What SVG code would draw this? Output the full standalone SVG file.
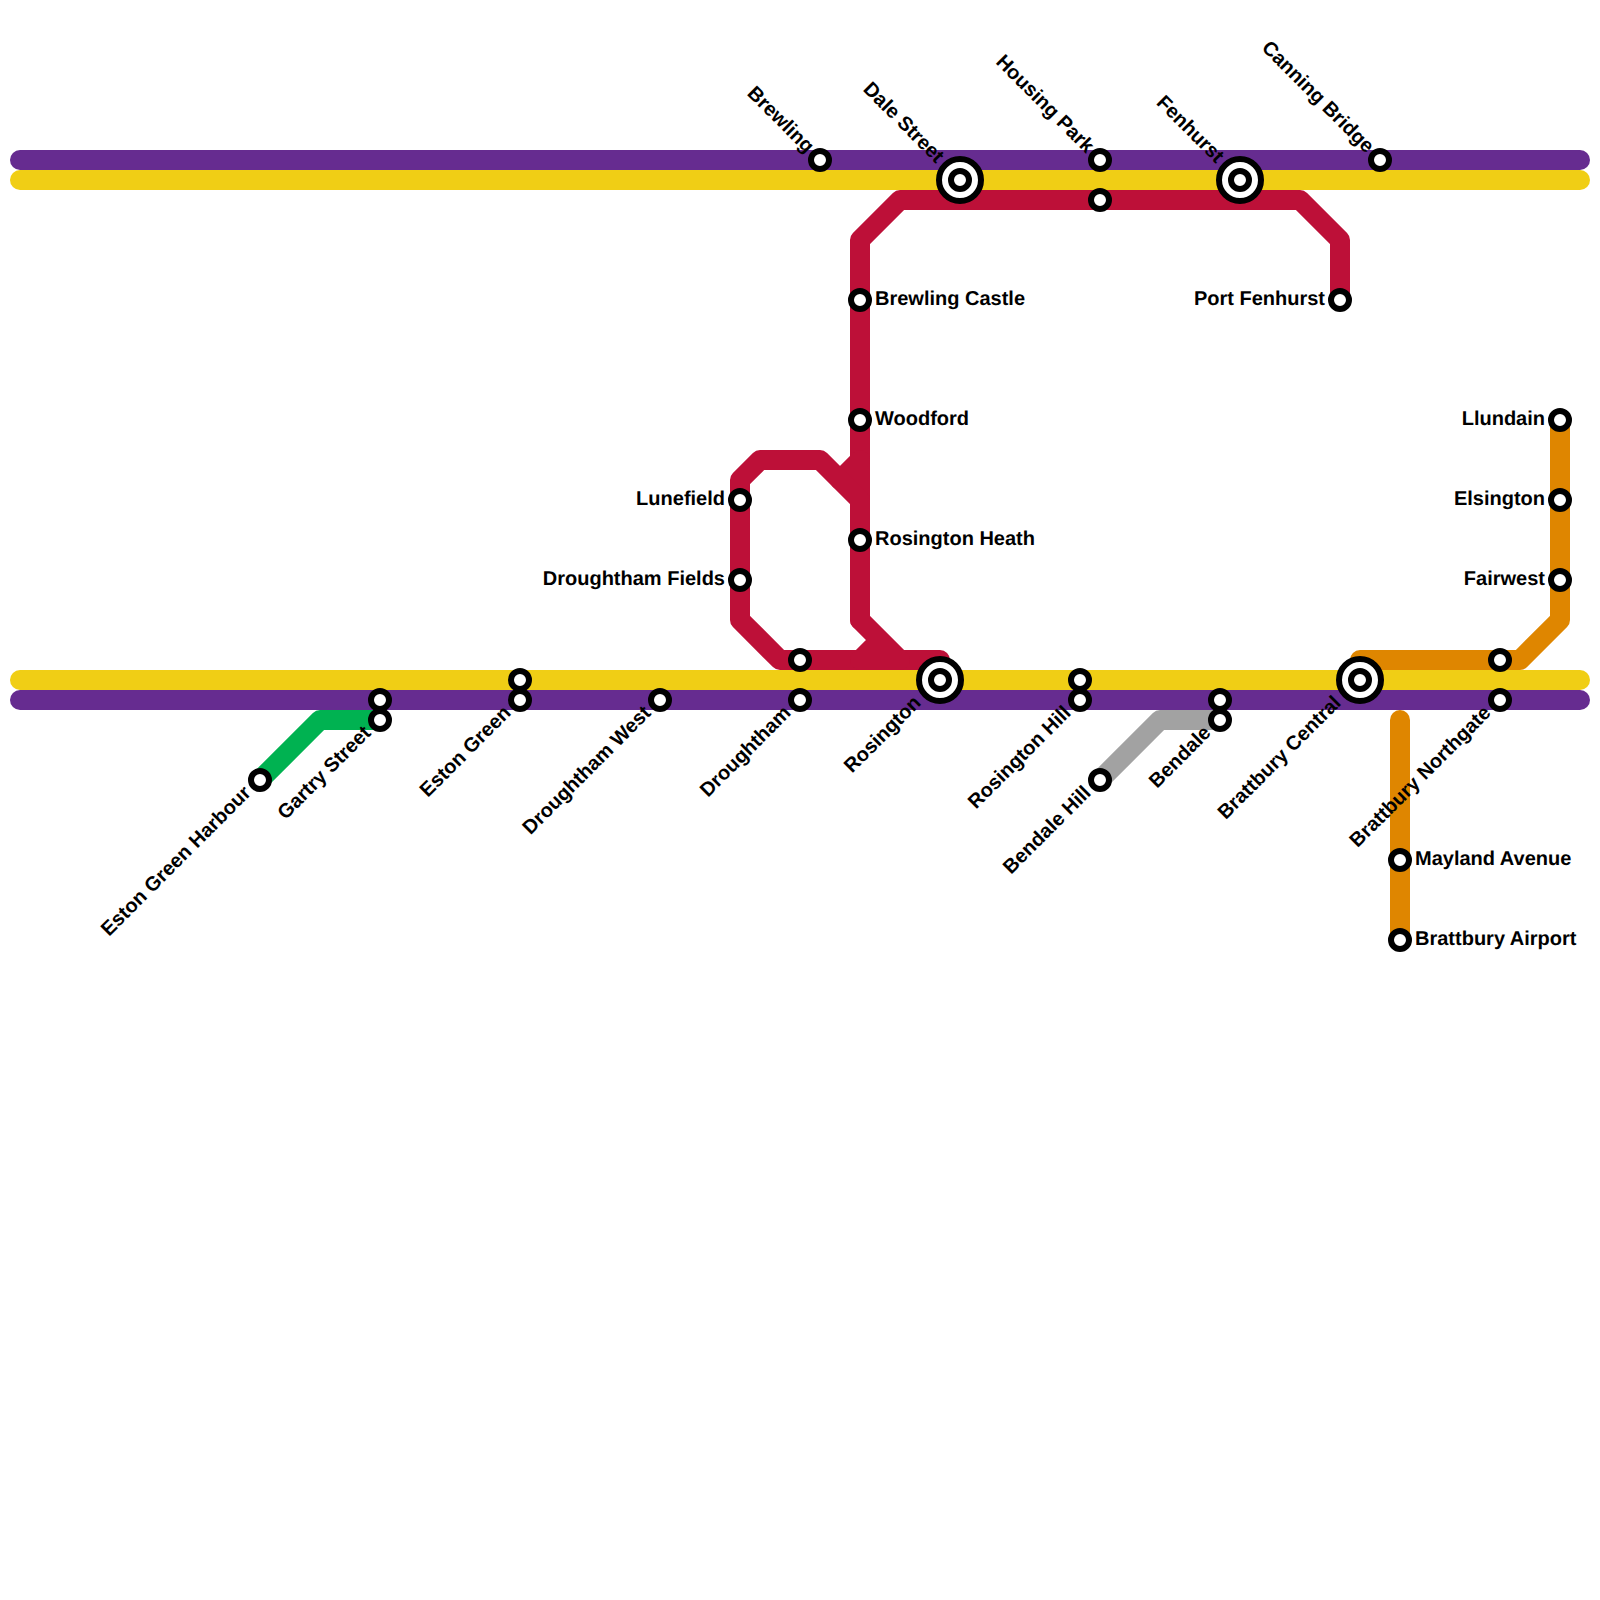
<svg xmlns="http://www.w3.org/2000/svg" width="1600" height="1600" viewBox="0 0 1600 1600">
<style>
.l{fill:none;stroke-width:20;stroke-linecap:round;stroke-linejoin:round}
.s{fill:#fff;stroke:#000;stroke-width:6}
text{font-family:"Liberation Sans",Arial,sans-serif;font-size:20px;font-weight:700;fill:#000;text-rendering:geometricPrecision}
.e{text-anchor:end}
</style>
<defs>
<g id="st"><circle class="s" r="9"/></g>
<g id="ic"><circle class="s" r="21"/><circle class="s" r="9"/></g>
</defs>
<rect width="1600" height="1600" fill="#fff"/>
<g id="connectors">
<path class="l" stroke="#00b251" d="M260 780L320 720H380"/>
<path class="l" stroke="#a2a2a2" d="M1100 780L1160 720H1220"/>
<path class="l" stroke="#bd1038" d="M1340 300V240L1300 200H900L860 240V620"/>
<path class="l" stroke="#bd1038" d="M860 460L840 480"/>
<path class="l" stroke="#bd1038" d="M880 640L860 660H780L740 620V480L760 460H820L860 500V620L900 660H940V680"/>
<path class="l" stroke="#bd1038" d="M860 660H900"/>
<path class="l" stroke="#df8600" d="M1360 680V660H1520L1560 620V420"/>
<path class="l" stroke="#df8600" d="M1400 720V940"/>
<path class="l" stroke="#662c90" d="M20 160H1580"/>
<path class="l" stroke="#f0ce15" d="M20 180H1580"/>
<path class="l" stroke="#f0ce15" d="M20 680H1580"/>
<path class="l" stroke="#662c90" d="M20 700H1580"/>
</g>
<g id="brewling"><use href="#st" x="820" y="160"/><text class="e" transform="translate(811 149) rotate(45)" dy="7">Brewling</text></g>
<g id="dale-street"><use href="#ic" x="960" y="180"/><text class="e" transform="translate(941 159) rotate(45)" dy="7">Dale Street</text></g>
<g id="housing-park"><use href="#st" x="1100" y="160"/><use href="#st" x="1100" y="200"/><text class="e" transform="translate(1091 149) rotate(45)" dy="7">Housing Park</text></g>
<g id="fenhurst"><use href="#ic" x="1240" y="180"/><text class="e" transform="translate(1221 159) rotate(45)" dy="7">Fenhurst</text></g>
<g id="canning-bridge"><use href="#st" x="1380" y="160"/><text class="e" transform="translate(1371 149) rotate(45)" dy="7">Canning Bridge</text></g>
<g id="brewling-castle"><use href="#st" x="860" y="300"/><text x="875" y="305">Brewling Castle</text></g>
<g id="woodford"><use href="#st" x="860" y="420"/><text x="875" y="425">Woodford</text></g>
<g id="rosington-heath"><use href="#st" x="860" y="540"/><text x="875" y="545">Rosington Heath</text></g>
<g id="port-fenhurst"><use href="#st" x="1340" y="300"/><text class="e" x="1325" y="305">Port Fenhurst</text></g>
<g id="lunefield"><use href="#st" x="740" y="500"/><text class="e" x="725" y="505">Lunefield</text></g>
<g id="droughtham-fields"><use href="#st" x="740" y="580"/><text class="e" x="725" y="585">Droughtham Fields</text></g>
<g id="droughtham"><use href="#st" x="800" y="660"/><use href="#st" x="800" y="700"/><text class="e" transform="translate(787 709) rotate(-45)" dy="7">Droughtham</text></g>
<g id="rosington"><use href="#ic" x="940" y="680"/><text class="e" transform="translate(917 699) rotate(-45)" dy="7">Rosington</text></g>
<g id="rosington-hill"><use href="#st" x="1080" y="680"/><use href="#st" x="1080" y="700"/><text class="e" transform="translate(1067 709) rotate(-45)" dy="7">Rosington Hill</text></g>
<g id="bendale"><use href="#st" x="1220" y="700"/><use href="#st" x="1220" y="720"/><text class="e" transform="translate(1207 729) rotate(-45)" dy="7">Bendale</text></g>
<g id="bendale-hill"><use href="#st" x="1100" y="780"/><text class="e" transform="translate(1087 789) rotate(-45)" dy="7">Bendale Hill</text></g>
<g id="brattbury-central"><use href="#ic" x="1360" y="680"/><text class="e" transform="translate(1337 699) rotate(-45)" dy="7">Brattbury Central</text></g>
<g id="brattbury-northgate"><use href="#st" x="1500" y="660"/><use href="#st" x="1500" y="700"/><text class="e" transform="translate(1487 709) rotate(-45)" dy="7">Brattbury Northgate</text></g>
<g id="mayland-avenue"><use href="#st" x="1400" y="860"/><text x="1415" y="865">Mayland Avenue</text></g>
<g id="brattbury-airport"><use href="#st" x="1400" y="940"/><text x="1415" y="945">Brattbury Airport</text></g>
<g id="llundain"><use href="#st" x="1560" y="420"/><text class="e" x="1545" y="425">Llundain</text></g>
<g id="elsington"><use href="#st" x="1560" y="500"/><text class="e" x="1545" y="505">Elsington</text></g>
<g id="fairwest"><use href="#st" x="1560" y="580"/><text class="e" x="1545" y="585">Fairwest</text></g>
<g id="eston-green-harbour"><use href="#st" x="260" y="780"/><text class="e" transform="translate(247 789) rotate(-45)" dy="7">Eston Green Harbour</text></g>
<g id="gartry-street"><use href="#st" x="380" y="700"/><use href="#st" x="380" y="720"/><text class="e" transform="translate(367 729) rotate(-45)" dy="7">Gartry Street</text></g>
<g id="eston-green"><use href="#st" x="520" y="680"/><use href="#st" x="520" y="700"/><text class="e" transform="translate(507 709) rotate(-45)" dy="7">Eston Green</text></g>
<g id="droughtham-west"><use href="#st" x="660" y="700"/><text class="e" transform="translate(647 709) rotate(-45)" dy="7">Droughtham West</text></g>
</svg>
